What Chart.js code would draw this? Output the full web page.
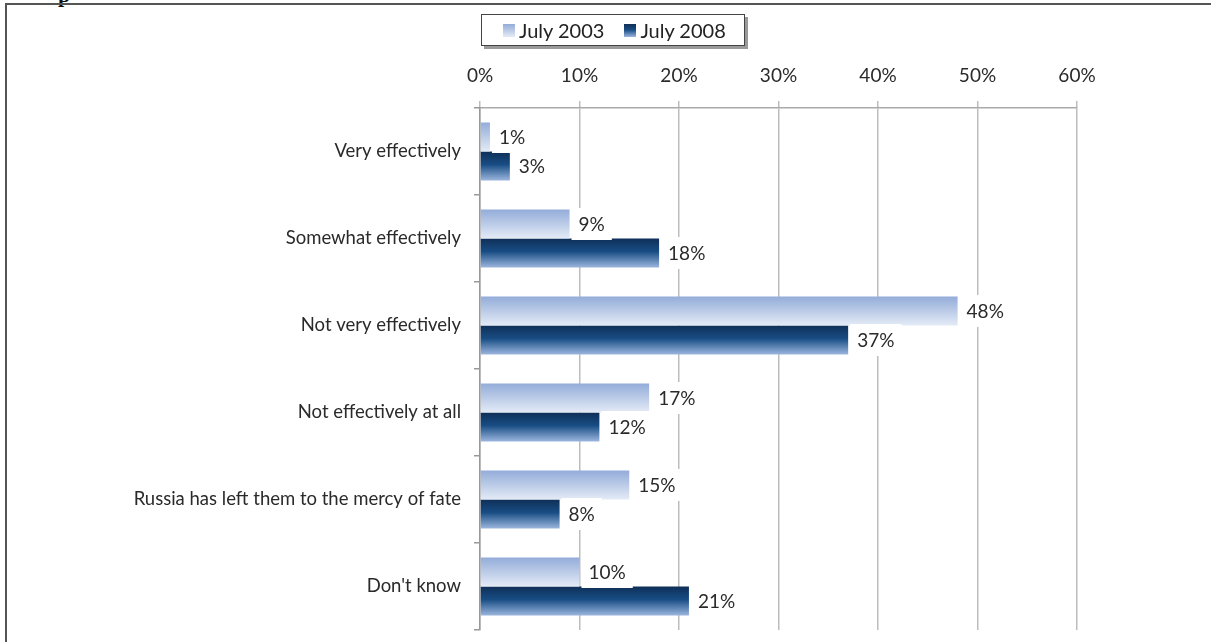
<!DOCTYPE html>
<html lang="en">
<head>
    <meta charset="UTF-8">
    <title>Effectiveness chart</title>
    <script src="https://cdn.jsdelivr.net/npm/chart.js"></script>
    <style>
        body {
            margin: 0;
            width: 1211px;
            height: 642px;
            overflow: hidden;
            background: #fff;
            position: relative;
            font-family: Lato, sans-serif;
        }
        .frame {
            position: absolute;
            left: 5px;
            top: 3px;
            width: 1220px;
            height: 660px;
            border-top: 2px solid #555;
            border-left: 2px solid #555;
        }
        .cut {
            position: absolute;
            left: 58px;
            top: -18px;
            font: bold 22px "Liberation Serif", serif;
            color: #111;
        }
        #wrap {
            position: absolute;
            left: 0;
            top: 0;
            width: 1211px;
            height: 642px;
        }
        .legend {
            position: absolute;
            left: 481px;
            top: 14px;
            width: 262px;
            height: 30px;
            border: 1px solid #444;
            background: #fff;
            box-shadow: 3px 3px 0 #9a9a9a;
            display: flex;
            align-items: center;
            font-size: 20px;
            color: #222;
        }
        .legend span.sw {
            display: inline-block;
            width: 12px;
            height: 13px;
            margin-right: 4px;
        }
        .legend .item { display: flex; align-items: center; }
    </style>
</head>
<body>
    <div class="cut">p</div>
    <div class="frame"></div>
    <div id="wrap"><canvas id="chart" width="1211" height="642"></canvas></div>
    <div class="legend">
        <div class="item" style="margin-left:21px"><span class="sw" style="background:linear-gradient(#93acd9,#e4ebf6)"></span><span id="lg0"></span></div>
        <div class="item" style="margin-left:20px"><span class="sw" style="background:linear-gradient(#0f2f58,#184d84 45%,#9cb6de)"></span><span id="lg1"></span></div>
    </div>

    <script>
        const categories = [
            'Very effectively',
            'Somewhat effectively',
            'Not very effectively',
            'Not effectively at all',
            'Russia has left them to the mercy of fate',
            "Don't know"
        ];
        const seriesNames = ['July 2003', 'July 2008'];
        const july2003 = [1, 9, 48, 17, 15, 10];
        const july2008 = [3, 18, 37, 12, 8, 21];

        document.getElementById('lg0').textContent = seriesNames[0];
        document.getElementById('lg1').textContent = seriesNames[1];

        const catPct = 0.667;

        // vertical gradient inside each bar
        function barGradient(context) {
            const chart = context.chart;
            const y = chart.scales.y;
            if (!chart.chartArea || !y) return '#888';
            const c = y.getPixelForValue(context.dataIndex);
            const h = (y.height / categories.length) * catPct / 2;
            const top = context.datasetIndex === 0 ? c - h : c;
            const g = chart.ctx.createLinearGradient(0, top, 0, top + h);
            if (context.datasetIndex === 0) {
                g.addColorStop(0, '#93acd9');
                g.addColorStop(1, '#e4ebf6');
            } else {
                g.addColorStop(0, '#0f2f58');
                g.addColorStop(0.45, '#184d84');
                g.addColorStop(1, '#9cb6de');
            }
            return g;
        }

        // value labels with white boxes behind them
        const valueLabels = {
            id: 'valueLabels',
            afterDatasetsDraw(chart) {
                const ctx = chart.ctx;
                ctx.save();
                ctx.font = '19px Lato, sans-serif';
                ctx.textBaseline = 'middle';
                chart.data.datasets.forEach((ds, di) => {
                    chart.getDatasetMeta(di).data.forEach((bar, i) => {
                        const txt = ds.data[i] + '%';
                        const w = ctx.measureText(txt).width;
                        ctx.fillStyle = '#fff';
                        ctx.fillRect(bar.x + 2, bar.y - 16, w + 14, 32);
                        ctx.fillStyle = '#2a2a2a';
                        ctx.fillText(txt, bar.x + 9, bar.y + 1);
                    });
                });
                ctx.restore();
            }
        };

        new Chart(document.getElementById('chart'), {
            type: 'bar',
            data: {
                labels: categories,
                datasets: [
                    { label: seriesNames[0], data: july2003, backgroundColor: barGradient },
                    { label: seriesNames[1], data: july2008, backgroundColor: barGradient }
                ]
            },
            options: {
                indexAxis: 'y',
                responsive: false,
                animation: false,
                categoryPercentage: catPct,
                barPercentage: 1,
                layout: { padding: { left: 0, right: 134, top: 60, bottom: 12 } },
                plugins: {
                    legend: { display: false },
                    tooltip: { enabled: false }
                },
                scales: {
                    x: {
                        position: 'top',
                        min: 0,
                        max: 60,
                        afterFit: s => { s.height = 48; s.paddingLeft = 0; s.paddingRight = 0; },
                        ticks: {
                            stepSize: 10,
                            callback: v => v + '%',
                            color: '#2a2a2a',
                            font: { family: 'Lato', size: 19 },
                            padding: 14
                        },
                        grid: { color: '#bdbdbd', lineWidth: 1.5, tickLength: 7 },
                        border: { color: '#aaa', width: 1.5 }
                    },
                    y: {
                        afterFit: s => { s.width = 480; s.paddingTop = 0; s.paddingBottom = 0; },
                        ticks: {
                            color: '#2a2a2a',
                            font: { family: 'Lato', size: 18.5 },
                            padding: 13
                        },
                        grid: { drawOnChartArea: false, tickLength: 6, color: '#999', lineWidth: 1.5 },
                        border: { color: '#999', width: 1.5 }
                    }
                }
            },
            plugins: [valueLabels]
        });
    </script>
</body>
</html>
